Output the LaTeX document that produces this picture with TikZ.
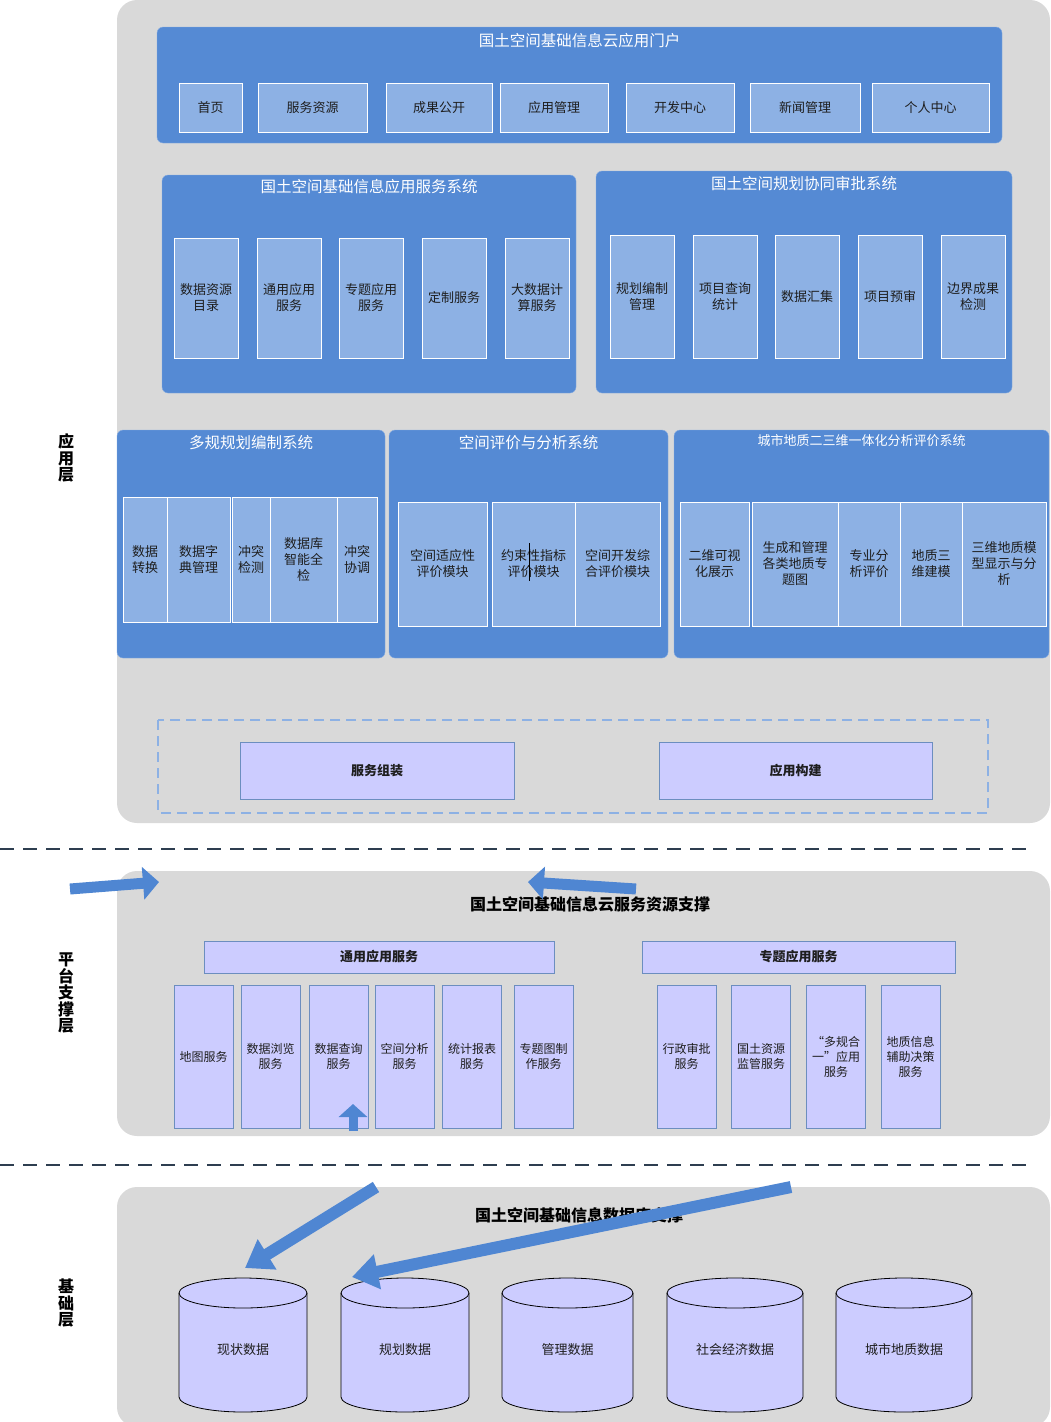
\documentclass[tikz,border=0pt]{standalone}
\usepackage{fontspec}
\setmainfont{Noto Sans CJK SC}
\usetikzlibrary{arrows.meta}

\definecolor{panelgray}{HTML}{D9D9D9}
\definecolor{sysblue}{HTML}{558AD4}
\definecolor{itemblue}{HTML}{8DB1E4}
\definecolor{lavender}{HTML}{CCCCFF}
\definecolor{lavedge}{HTML}{6C8EBF}
\definecolor{arrowblue}{HTML}{4F86D2}
\definecolor{sepnavy}{HTML}{2E3E50}
\definecolor{itemtext}{HTML}{1E1E1E}

\begin{document}
\begin{tikzpicture}[
    x=1pt, y=-1pt,
    panel/.style={fill=panelgray, rounded corners=20pt, inner sep=0pt},
    sysbox/.style={fill=sysblue, draw=sysblue!70!white, rounded corners=6pt, inner sep=0pt},
    systitle/.style={text=white, font=\fontsize{15.5}{18}\selectfont, inner sep=0pt},
    item/.style={fill=itemblue, draw=white, line width=0.9pt, inner sep=1pt, align=center,
        text=itemtext, font=\fontsize{13}{16}\selectfont},
    svc/.style={fill=lavender, draw=lavedge, line width=0.7pt, inner sep=1pt, align=center,
        text=itemtext, font=\fontsize{12}{15}\selectfont},
    db/.style={fill=lavender, draw=black, line width=0.8pt},
    layer/.style={font=\fontsize{16}{16.5}\selectfont\bfseries, align=center, inner sep=0pt},
    bigtitle/.style={font=\fontsize{16}{18}\selectfont\bfseries, inner sep=0pt},
    sepline/.style={sepnavy, line width=2pt, dash pattern=on 14pt off 9pt},
    blockarrow/.style={arrowblue, line width=11pt, -{Triangle[length=16pt,width=32pt]}},
    longarrow/.style={arrowblue, line width=12pt, -{Triangle[length=26pt,width=34pt]}}
]
\useasboundingbox (0,0) rectangle (1051,1422);

% application layer
\node[panel, minimum width=933pt, minimum height=823pt] (applayer) at (583.5,411.5) {};
\node[layer] (applabel) at (66,458) {应\\用\\层};

% portal
\node[sysbox, minimum width=845pt, minimum height=116pt] (portal) at (579.5,85) {};
\node[systitle] (portaltitle) at (579.5,41) {国土空间基础信息云应用门户};
\node[item, minimum width=63pt, minimum height=49pt] (p1) at (210.5,107.5) {首页};
\node[item, minimum width=109pt, minimum height=49pt] (p2) at (312.5,107.5) {服务资源};
\node[item, minimum width=106pt, minimum height=49pt] (p3) at (439,107.5) {成果公开};
\node[item, minimum width=108pt, minimum height=49pt] (p4) at (554,107.5) {应用管理};
\node[item, minimum width=108pt, minimum height=49pt] (p5) at (680,107.5) {开发中心};
\node[item, minimum width=110pt, minimum height=49pt] (p6) at (805,107.5) {新闻管理};
\node[item, minimum width=117pt, minimum height=49pt] (p7) at (930.5,107.5) {个人中心};

% application service system
\node[sysbox, minimum width=414pt, minimum height=218pt] (appsvc) at (369,284) {};
\node[systitle] (appsvctitle) at (369,187) {国土空间基础信息应用服务系统};
\foreach \cx/\txt [count=\i] in {206/数据资源\\目录, 289/通用应用\\服务, 371/专题应用\\服务,
    454/定制服务, 537/大数据计\\算服务}
    \node[item, minimum width=64pt, minimum height=120pt] (as\i) at (\cx,298) {\txt};

% planning approval system
\node[sysbox, minimum width=416pt, minimum height=222pt] (approval) at (804,282) {};
\node[systitle] (approvaltitle) at (804,184) {国土空间规划协同审批系统};
\foreach \cx/\txt [count=\i] in {642/规划编制\\管理, 725/项目查询\\统计, 807/数据汇集,
    890/项目预审, 973/边界成果\\检测}
    \node[item, minimum width=64pt, minimum height=123pt] (ap\i) at (\cx,296.5) {\txt};

% multi-plan system
\node[sysbox, minimum width=268pt, minimum height=228pt] (multiplan) at (251,544) {};
\node[systitle] (multiplantitle) at (251,443) {多规规划编制系统};
\node[item, minimum width=44pt, minimum height=125pt] (mp1) at (145,559.5) {数据\\转换};
\node[item, minimum width=63pt, minimum height=125pt] (mp2) at (198.5,559.5) {数据字\\典管理};
\node[item, minimum width=38pt, minimum height=125pt] (mp3) at (251,559.5) {冲突\\检测};
\node[item, minimum width=67pt, minimum height=125pt] (mp4) at (303.5,559.5) {数据库\\智能全\\检};
\node[item, minimum width=40pt, minimum height=125pt] (mp5) at (357,559.5) {冲突\\协调};

% spatial evaluation system
\node[sysbox, minimum width=279pt, minimum height=228pt] (spaceval) at (528.5,544) {};
\node[systitle] (spacevaltitle) at (528.5,443) {空间评价与分析系统};
\node[item, minimum width=89pt, minimum height=124pt] (se1) at (442.5,564) {空间适应性\\评价模块};
\node[item, minimum width=83pt, minimum height=124pt] (se2) at (533.5,564) {约束性指标\\评价模块};
\node[item, minimum width=85pt, minimum height=124pt] (se3) at (617.5,564) {空间开发综\\合评价模块};
\draw[black, line width=0.8pt] (529,543) -- (529,581);

% urban geology system
\node[sysbox, minimum width=375pt, minimum height=228pt] (geology) at (861.5,544) {};
\node[systitle, font=\fontsize{13}{16}\selectfont] (geologytitle) at (861.5,441) {城市地质二三维一体化分析评价系统};
\node[item, minimum width=69pt, minimum height=124pt] (ge1) at (714.5,564) {二维可视\\化展示};
\node[item, minimum width=86pt, minimum height=124pt] (ge2) at (795,564) {生成和管理\\各类地质专\\题图};
\node[item, minimum width=62pt, minimum height=124pt] (ge3) at (869,564) {专业分\\析评价};
\node[item, minimum width=62pt, minimum height=124pt] (ge4) at (931,564) {地质三\\维建模};
\node[item, minimum width=84pt, minimum height=124pt] (ge5) at (1004,564) {三维地质模\\型显示与分\\析};

% assembly
\draw[itemblue, line width=1.5pt, dash pattern=on 10pt off 6pt] (158,720) rectangle (988,813);
\node[svc, minimum width=274pt, minimum height=57pt, font=\fontsize{13}{16}\selectfont\bfseries] (assemble) at (377,770.5) {服务组装};
\node[svc, minimum width=273pt, minimum height=57pt, font=\fontsize{13}{16}\selectfont\bfseries] (construct) at (795.5,770.5) {应用构建};

\draw[sepline] (0,849) -- (1030,849);

% platform layer
\node[panel, minimum width=933pt, minimum height=265pt] (platform) at (583.5,1003.5) {};
\node[layer] (platlabel) at (66,993) {平\\台\\支\\撑\\层};
\node[bigtitle] (plattitle) at (590,904) {国土空间基础信息云服务资源支撑};
\node[svc, minimum width=350pt, minimum height=32pt, font=\fontsize{13}{16}\selectfont\bfseries] (general) at (379,957) {通用应用服务};
\node[svc, minimum width=313pt, minimum height=32pt, font=\fontsize{13}{16}\selectfont\bfseries] (thematic) at (798.5,957) {专题应用服务};
\foreach \cx/\txt [count=\i] in {203.5/地图服务, 270.5/数据浏览\\服务, 338.5/数据查询\\服务,
    404.5/空间分析\\服务, 472/统计报表\\服务, 543.5/专题图制\\作服务,
    686.5/行政审批\\服务, 761/国土资源\\监管服务, 836/“多规合\\一”应用\\服务, 910.5/地质信息\\辅助决策\\服务}
    \node[svc, minimum width=59pt, minimum height=143pt] (sv\i) at (\cx,1056.5) {\txt};

\draw[sepline] (0,1165) -- (1030,1165);

% base layer
\node[panel, minimum width=933pt, minimum height=240pt] (base) at (583.5,1307) {};
\node[layer] (baselabel) at (66,1303) {基\\础\\层};
\node[bigtitle] (basetitle) at (579,1215) {国土空间基础信息数据库支撑};
\foreach \cx/\r/\txt [count=\i] in {243/64/现状数据, 405/64/规划数据, 567.5/65.5/管理数据,
    735/68/社会经济数据, 904/68/城市地质数据} {
    \draw[db] (\cx-\r,1293) -- (\cx-\r,1397)
        arc[start angle=180, end angle=0, x radius=\r, y radius=15]
        -- (\cx+\r,1293) arc[start angle=0, end angle=-180, x radius=\r, y radius=15] -- cycle;
    \draw[db, fill=none] (\cx-\r,1293) arc[start angle=180, end angle=0, x radius=\r, y radius=15];
    \node[font=\fontsize{13}{16}\selectfont, text=itemtext] (db\i) at (\cx,1350) {\txt};
}

% arrows
\coordinate (a1s) at (70,889);
\coordinate (a1e) at (159,882);
\coordinate (a2s) at (636,889);
\coordinate (a2e) at (528,882);
\coordinate (a3s) at (353,1131);
\coordinate (a3e) at (353,1104);
\coordinate (a4s) at (376,1187);
\coordinate (a4e) at (245,1268);
\coordinate (a5s) at (791,1187);
\coordinate (a5e) at (352,1277);
\draw[blockarrow] (a1s) -- (a1e);
\draw[blockarrow] (a2s) -- (a2e);
\draw[arrowblue, line width=9pt, -{Triangle[length=13pt,width=28pt]}] (a3s) -- (a3e);
\draw[longarrow] (a4s) -- (a4e);
\draw[longarrow] (a5s) -- (a5e);
\end{tikzpicture}
\end{document}
